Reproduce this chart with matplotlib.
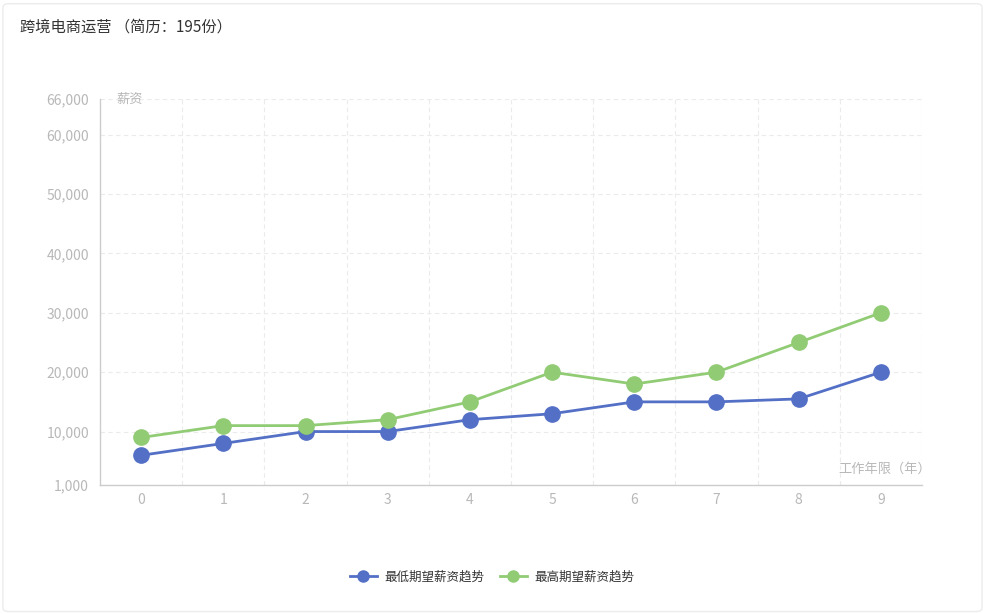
import matplotlib
matplotlib.use("Agg")
import matplotlib.pyplot as plt
from matplotlib.lines import Line2D
from matplotlib.patches import FancyBboxPatch

plt.rcParams['font.family'] = ['Noto Sans CJK SC', 'DejaVu Sans']

# data
years = [0, 1, 2, 3, 4, 5, 6, 7, 8, 9]
low_salary = [6000, 8000, 10000, 10000, 12000, 13000, 15000, 15000, 15500, 20000]
high_salary = [9000, 11000, 11000, 12000, 15000, 20000, 18000, 20000, 25000, 30000]
y_ticks = [1000, 10000, 20000, 30000, 40000, 50000, 60000, 66000]
series_names = ['最低期望薪资趋势', '最高期望薪资趋势']
title = '跨境电商运营 （简历：195份）'

blue = '#5470c6'
green = '#91cc75'
label_grey = '#b8b8b8'

fig = plt.figure(figsize=(9.85, 6.14), dpi=100)

# outer card border (kept behind the axes)
card = FancyBboxPatch((0.003, 0.004), 0.994, 0.99, boxstyle='round,pad=0,rounding_size=0.006',
                      transform=fig.transFigure, facecolor='white', edgecolor='#ececec', lw=1,
                      zorder=-10)
fig.patches.append(card)

fig.text(20 / 985, 1 - 27 / 614, title, fontsize=11, color='#333333', va='center', ha='left')

# plot area in pixels: left 100, right 922, top 99, bottom 485
ax = fig.add_axes([100 / 985, 1 - 485 / 614, 822 / 985, 386 / 614])
ax.set_zorder(1)
ax.patch.set_alpha(0)
ax.set_xlim(-0.5, 9.5)
ax.set_ylim(1000, 66000)

for x in [v + 0.5 for v in years[:-1]] + [9.5]:
    ax.axvline(x, color='#ebebeb', lw=0.8, ls=(0, (4, 3)), zorder=0)
for y in y_ticks[1:]:
    ax.axhline(y, color='#ebebeb', lw=0.8, ls=(0, (4, 3)), zorder=0)

ax.plot(years, low_salary, color=blue, lw=2, marker='o', ms=11, zorder=3)
ax.plot(years, high_salary, color=green, lw=2, marker='o', ms=11, zorder=3)

for s in ['top', 'right']:
    ax.spines[s].set_visible(False)
for s in ['left', 'bottom']:
    ax.spines[s].set_color('#cccccc')
    ax.spines[s].set_linewidth(1)

ax.set_xticks(years)
ax.set_xticklabels([str(v) for v in years])
ax.set_yticks(y_ticks)
ax.set_yticklabels([f'{v:,}' for v in y_ticks])
ax.tick_params(axis='both', length=0, colors=label_grey, labelsize=10)
ax.tick_params(axis='y', pad=8)
ax.tick_params(axis='x', pad=6)

ax.text(130 / 985, 1 - 99 / 614, '薪资', transform=fig.transFigure, fontsize=9.5,
        color=label_grey, ha='center', va='center')
ax.text(931 / 985, 1 - 469 / 614, '工作年限（年）', transform=fig.transFigure, fontsize=9.5,
        color=label_grey, ha='right', va='center')

handles = [Line2D([], [], color=blue, lw=2, marker='o', ms=8),
           Line2D([], [], color=green, lw=2, marker='o', ms=8)]
fig.legend(handles, series_names, loc='center', bbox_to_anchor=(492 / 985, 1 - 577 / 614),
           ncol=2, frameon=False, fontsize=9, handlelength=2.2, columnspacing=1.2,
           handletextpad=0.6, labelcolor='#333333')

fig.savefig('out.png', dpi=100)
